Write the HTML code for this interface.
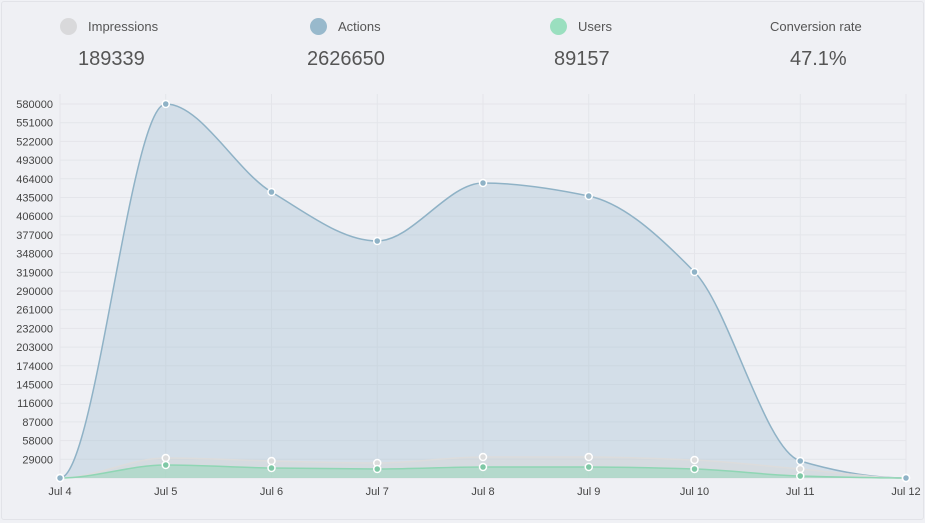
<!DOCTYPE html>
<html><head><meta charset="utf-8"><style>
html,body{margin:0;padding:0;background:#f0f1f5;width:925px;height:523px;overflow:hidden;font-family:"Liberation Sans",sans-serif;}
#card{position:absolute;left:1px;top:1px;width:921px;height:517px;border:1px solid #e2e3e8;border-radius:3px;background:#eff0f4;}
.lg{position:absolute;top:19px;font-size:13px;color:#555;}
.dot{position:absolute;top:18px;width:17px;height:17px;border-radius:50%;}
.num{position:absolute;top:48px;font-size:20px;color:#555;font-weight:300;}
svg{position:absolute;left:0;top:0}
</style></head><body>
<div id="card"></div>
<div class="dot" style="left:60px;background:#d9d9db"></div><div class="lg" style="left:88px">Impressions</div>
<div class="dot" style="left:310px;background:#98b9cc"></div><div class="lg" style="left:338px">Actions</div>
<div class="dot" style="left:550px;background:#9adfbf"></div><div class="lg" style="left:578px">Users</div>
<div class="lg" style="left:770px">Conversion rate</div>
<div class="num" style="left:78px">189339</div>
<div class="num" style="left:307px">2626650</div>
<div class="num" style="left:554px">89157</div>
<div class="num" style="left:790px">47.1%</div>
<svg id="s" width="925" height="523"></svg>
<script>
var s=document.getElementById('s'),h='';
var x0=60,dx=105.75,y0=478,yt=104;
function Y(v){return y0-(y0-yt)*v/580000;}
for(var i=0;i<=20;i++){var y=Y(i*29000);h+='<line x1="60" x2="906" y1="'+y+'" y2="'+y+'" stroke="#e4e5ea" stroke-width="1"/>';
if(i>0)h+='<text x="53" y="'+(y+4)+'" text-anchor="end" font-size="11" fill="#444" font-family="Liberation Sans">'+(i*29000)+'</text>';}
var lab=['Jul 4','Jul 5','Jul 6','Jul 7','Jul 8','Jul 9','Jul 10','Jul 11','Jul 12'];
for(var i=0;i<9;i++){var x=x0+i*dx;h+='<line x1="'+x+'" x2="'+x+'" y1="94" y2="478" stroke="#e4e5ea"/>';
h+='<text x="'+x+'" y="495" text-anchor="middle" font-size="11" fill="#444" font-family="Liberation Sans">'+lab[i]+'</text>';}
function path(ys){var n=ys.length,p=ys.map(function(y,i){return [x0+i*dx,y]});
var d=[],m=[];for(var i=0;i<n-1;i++)d.push((ys[i+1]-ys[i])/dx);
for(var i=0;i<n;i++){if(i==0||i==n-1)m.push(0);else{
 if(d[i-1]*d[i]<=0)m.push(0);else{var a=d[i-1],b=d[i];m.push(2/(1/a+1/b)*0.999);}}}
var s='M'+p[0];
for(var i=0;i<n-1;i++){var h3=dx/3;s+=' C'+(p[i][0]+h3)+','+(p[i][1]+m[i]*h3)+' '+(p[i+1][0]-h3)+','+(p[i+1][1]-m[i+1]*h3)+' '+p[i+1];}
return [s,p];}
function series(ys,fill,stroke){var r=path(ys);
h+='<path d="'+r[0]+' L906,478 L60,478 Z" fill="'+fill+'"/>';
h+='<path d="'+r[0]+'" fill="none" stroke="'+stroke+'" stroke-width="1.5"/>';
return r[1];}
var A=series([478,104,192,241,183,196,272,461,478],'rgba(160,190,210,0.35)','#8fb2c6');
var I=series([478,458,461,463,457,457,460,469,478],'rgba(215,215,215,0.45)','#dcdcdc');
var U=series([478,465,468,469,467,467,469,476,478],'rgba(140,215,180,0.45)','#8fd6b4');
function dots(p,f){p.forEach(function(q){h+='<circle cx="'+q[0]+'" cy="'+q[1]+'" r="3.5" fill="'+f+'" stroke="#fff" stroke-width="1.5"/>';});}
dots(I,'#dcdcdc');dots(U,'#7fc8a6');dots(A,'#8fb2c6');
s.innerHTML=h;
</script>
</body></html>
